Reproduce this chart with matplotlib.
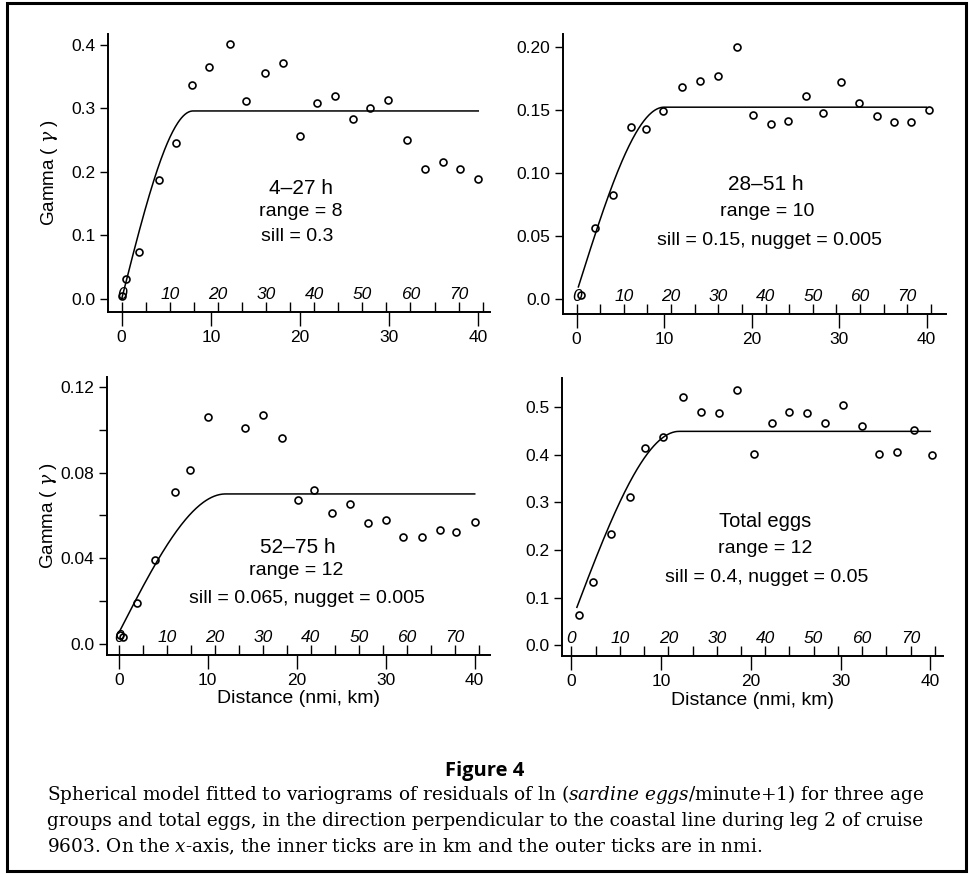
import numpy as np
import matplotlib
matplotlib.use('Agg')
import matplotlib.pyplot as plt
from matplotlib.patches import Rectangle

plt.rcParams['font.family'] = ['Liberation Sans', 'DejaVu Sans']
plt.rcParams['mathtext.fontset'] = 'custom'
plt.rcParams['mathtext.rm'] = 'DejaVu Serif'
plt.rcParams['mathtext.it'] = 'DejaVu Serif:italic'

# du lieu doc tu hinh (khoang cach: hai li; gamma)
p1_x = [0.0, 0.5, 2.0, 4.2, 6.1, 7.9, 9.8, 12.1, 14.0, 16.1, 18.1, 20.0, 21.9, 23.9, 26.0, 27.9, 29.9, 32.0, 34.0, 36.0, 37.9, 40.0]
p1_y = [0.004, 0.032, 0.074, 0.187, 0.246, 0.337, 0.365, 0.401, 0.311, 0.355, 0.371, 0.256, 0.309, 0.319, 0.284, 0.301, 0.313, 0.250, 0.204, 0.216, 0.205, 0.189]

p2_x = [0.5, 2.1, 4.2, 6.2, 7.9, 9.9, 12.1, 14.1, 16.2, 18.3, 20.2, 22.2, 24.2, 26.2, 28.2, 30.2, 32.3, 34.3, 36.3, 38.2, 40.3]
p2_y = [0.003, 0.056, 0.082, 0.136, 0.135, 0.149, 0.168, 0.173, 0.177, 0.200, 0.146, 0.139, 0.141, 0.161, 0.147, 0.172, 0.155, 0.145, 0.140, 0.140, 0.150]

p3_x = [0.1, 0.5, 2.0, 4.1, 6.3, 8.0, 10.0, 14.2, 16.2, 18.3, 20.1, 21.9, 24.0, 26.0, 28.0, 30.0, 31.9, 34.1, 36.1, 37.9, 40.0]
p3_y = [0.004, 0.003, 0.019, 0.039, 0.071, 0.081, 0.106, 0.101, 0.107, 0.096, 0.067, 0.072, 0.061, 0.0655, 0.0565, 0.058, 0.050, 0.050, 0.053, 0.052, 0.057]

p4_x = [0.8, 2.4, 4.4, 6.5, 8.2, 10.2, 12.4, 14.4, 16.4, 18.5, 20.4, 22.4, 24.3, 26.3, 28.3, 30.3, 32.4, 34.3, 36.3, 38.2, 40.2]
p4_y = [0.064, 0.132, 0.234, 0.311, 0.414, 0.438, 0.522, 0.490, 0.487, 0.535, 0.401, 0.466, 0.490, 0.487, 0.466, 0.505, 0.461, 0.401, 0.406, 0.452, 0.399]

# tham so mo hinh cau
ranges = [8, 10, 12, 12]
nuggets = [0.0, 0.005, 0.005, 0.05]
plateaus = [0.296, 0.152, 0.070, 0.449]
curve_start = [0.0, 0.2, 0.0, 0.6]
curve_end = 40

labels = [['4\u201327 h', 'range = 8', 'sill = 0.3'],
          ['28\u201351 h', 'range = 10', 'sill = 0.15, nugget = 0.005'],
          ['52\u201375 h', 'range = 12', 'sill = 0.065, nugget = 0.005'],
          ['Total eggs', 'range = 12', 'sill = 0.4, nugget = 0.05']]

yticks = [[0, 0.1, 0.2, 0.3, 0.4],
          [0, 0.05, 0.10, 0.15, 0.20],
          [0, 0.04, 0.08, 0.12],
          [0, 0.1, 0.2, 0.3, 0.4, 0.5]]
ytick_labels = [['0.0', '0.1', '0.2', '0.3', '0.4'],
                ['0.0', '0.05', '0.10', '0.15', '0.20'],
                ['0.0', '0.04', '0.08', '0.12'],
                ['0.0', '0.1', '0.2', '0.3', '0.4', '0.5']]
nmi_ticks = [0, 10, 20, 30, 40]
km_major = [0, 10, 20, 30, 40, 50, 60, 70]
km_minor = [5, 15, 25, 35, 45, 55, 65, 75]

xs = [p1_x, p2_x, p3_x, p4_x]
ys = [p1_y, p2_y, p3_y, p4_y]

# vi tri cac o (left, bottom, width, height) va gioi han truc
pos = [[0.111, 0.643, 0.394, 0.318],
       [0.580, 0.641, 0.395, 0.320],
       [0.110, 0.251, 0.395, 0.318],
       [0.579, 0.249, 0.393, 0.318]]
xlims = [(-1.57, 41.3), (-1.6, 42.2), (-1.35, 41.7), (-1.1, 41.4)]
ylims = [(-0.0205, 0.417), (-0.0119, 0.210), (-0.0051, 0.1248), (-0.023, 0.560)]
text_pos = [[(0.505, 0.446), (0.505, 0.36), (0.497, 0.273)],
            [(0.53, 0.463), (0.535, 0.365), (0.54, 0.261)],
            [(0.498, 0.384), (0.495, 0.303), (0.522, 0.201)],
            [(0.533, 0.486), (0.533, 0.387), (0.538, 0.283)]]
text_size = [[15, 14, 14], [15, 14, 14], [15, 14, 14], [14.5, 14, 14]]

KM_PER_NMI = 1.852


def nmi_to_km(x):
    return x * KM_PER_NMI


def km_to_nmi(x):
    return x / KM_PER_NMI


def spherical(h, a, c0, total):
    h = np.asarray(h)
    g = c0 + (total - c0) * (1.5 * h / a - 0.5 * (h / a) ** 3)
    return np.where(h < a, g, total)


fig = plt.figure(figsize=(9.7, 8.74), dpi=100)

for i in range(4):
    ax = fig.add_axes(pos[i])
    h = np.linspace(curve_start[i], curve_end, 400)
    ax.plot(h, spherical(h, ranges[i], nuggets[i], plateaus[i]), color='black', lw=1.1)
    ax.plot(xs[i], ys[i], 'o', mfc='none', mec='black', ms=5, mew=1.2, zorder=3)

    ax.set_xlim(xlims[i])
    ax.set_ylim(ylims[i])
    for s in ['top', 'right']:
        ax.spines[s].set_visible(False)
    for s in ['left', 'bottom']:
        ax.spines[s].set_linewidth(1.4)

    ax.set_yticks(yticks[i], ytick_labels[i])
    if i == 2:
        ax.set_yticks([0.02, 0.06, 0.10], minor=True)
    ax.tick_params(axis='y', which='both', direction='out', length=6, width=1, labelsize=12.5, pad=3)
    ax.set_xticks(nmi_ticks)
    ax.tick_params(axis='x', direction='out', length=10, width=1, labelsize=12.5, pad=3)

    # truc km ben trong
    sec = ax.secondary_xaxis('bottom', functions=(nmi_to_km, km_to_nmi))
    sec.set_xticks(km_major, [str(k) for k in km_major], fontstyle='italic')
    sec.set_xticks(km_minor, minor=True)
    sec.tick_params(which='both', direction='in', length=7, width=1, labelsize=12.5, pad=-18)
    sec.spines['bottom'].set_visible(False)

    for (tx, ty), t, fs in zip(text_pos[i], labels[i], text_size[i]):
        ax.text(tx, ty, t, transform=ax.transAxes, ha='center', va='center', fontsize=fs)

    if i in (0, 2):
        ax.set_ylabel('Gamma ( $\\gamma$ )', fontsize=13.5)
        ax.yaxis.set_label_coords(-0.125, 0.5)
    if i in (2, 3):
        ax.set_xlabel('Distance (nmi, km)', fontsize=14, labelpad=2)

# khung vien
fig.patches.append(Rectangle((0.007, 0.003), 0.989, 0.993, transform=fig.transFigure,
                             fill=False, edgecolor='black', linewidth=2.2))

fig.text(0.5, 1 - 771 / 874, 'Figure 4', ha='center', va='center', fontsize=14.5,
         fontweight='bold', family=['Open Sans', 'DejaVu Sans'])

caption = ['Spherical model fitted to variograms of residuals of ln ($\\mathit{sardine\\ eggs}$/minute+1) for three age',
           'groups and total eggs, in the direction perpendicular to the coastal line during leg 2 of cruise',
           '9603. On the $\\mathit{x}$-axis, the inner ticks are in km and the outer ticks are in nmi.']
for k, line in enumerate(caption):
    fig.text(47 / 970, 1 - (795 + 26 * k) / 874, line, ha='left', va='center',
             fontsize=13.3, family='DejaVu Serif')

fig.savefig('out.png', dpi=100)
